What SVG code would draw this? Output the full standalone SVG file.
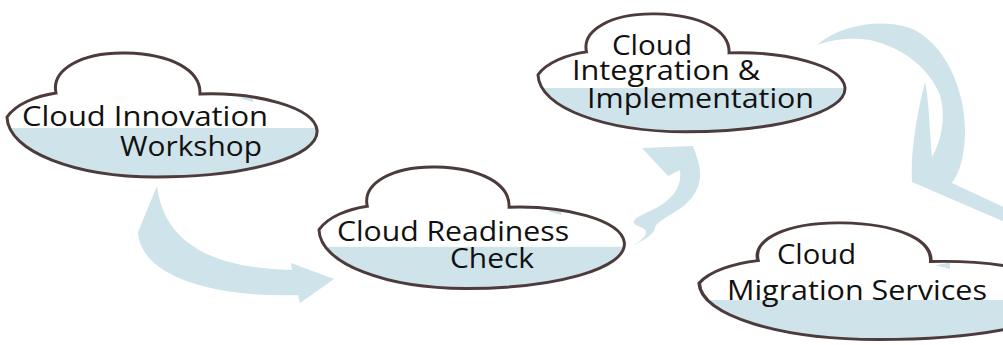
<svg xmlns="http://www.w3.org/2000/svg" xmlns:xlink="http://www.w3.org/1999/xlink" width="1003" height="345" viewBox="0 0 1003 345">
<style>
.arrow{fill:#cfe3ea;stroke:none}
.bg{fill:#ffffff;stroke:none}
.band{fill:#cfe3ea}
.outline{fill:none;stroke:#4d3b3b;stroke-width:3;vector-effect:non-scaling-stroke}
.hl{fill:#cfe3ea}
.lbl{font-family:"Open Sans","Noto Sans","DejaVu Sans",sans-serif;font-size:28px;fill:#111111}
</style>
<defs>
<path id="cloud" d="M1,65 C10,52 30,44 50,41 C45,18 75,0 120,1 C165,2 195,18 194,42 C250,40 308,55 311,78 C314,105 240,125 150,125 C70,125 2,100 1,65 Z"/>
<clipPath id="cc"><use xlink:href="#cloud" href="#cloud"/></clipPath>
</defs>
<rect width="1003" height="345" fill="#ffffff"/>
<g id="connectors">
<path class="arrow" d="M157,186 C163,235 200,268 292,270 L291,263 L334,279 L300,303 L298,295 C210,298 140,275 138,232 Z"/>
<path class="arrow" d="M632,246 C642,241 654,235 655,228 C656,223 662,220 670,215 C688,205 700,192 700,175 C700,162 695,152 693,146 L642,148 L668,176 L680,170 C682,185 675,197 658,207 C645,214 632,218 634,223 C636,227 646,227 646,232 C646,238 638,242 632,246 Z"/>
<path class="arrow" d="M817,45 C840,25 880,18 910,28 C945,42 965,90 965,130 C965,155 960,172 952,183 L1012,211 L1012,225 L912,182 C910,150 918,110 925,82 C929,100 930,135 932,157 C942,140 946,115 940,95 C930,70 905,48 870,40 C850,37 830,40 817,45 Z"/>
</g>
<g id="node-innovation">
<g transform="translate(6,52)">
<use xlink:href="#cloud" href="#cloud" class="bg"/>
<rect class="band" x="-5" y="76" width="330" height="60" clip-path="url(#cc)"/>
<polygon class="hl" points="233,46 247,43 247,50"/>
<use xlink:href="#cloud" href="#cloud" class="outline"/>
</g>
<text class="lbl" x="22" y="126" textLength="246" lengthAdjust="spacingAndGlyphs">Cloud Innovation</text>
<text class="lbl" x="120" y="156" textLength="142" lengthAdjust="spacingAndGlyphs">Workshop</text>
</g>
<g id="node-readiness">
<g transform="translate(318,166) scale(0.985,0.98)">
<use xlink:href="#cloud" href="#cloud" class="bg"/>
<rect class="band" x="-5" y="82.5" width="330" height="60" clip-path="url(#cc)"/>
<polygon class="hl" points="233,46 247,43 247,50"/>
<use xlink:href="#cloud" href="#cloud" class="outline"/>
</g>
<text class="lbl" x="337" y="241" textLength="232" lengthAdjust="spacingAndGlyphs">Cloud Readiness</text>
<text class="lbl" x="450" y="268" textLength="84" lengthAdjust="spacingAndGlyphs">Check</text>
</g>
<g id="node-integration">
<g transform="translate(537,13) scale(0.99,0.95)">
<use xlink:href="#cloud" href="#cloud" class="bg"/>
<rect class="band" x="-5" y="79" width="330" height="60" clip-path="url(#cc)"/>
<use xlink:href="#cloud" href="#cloud" class="outline"/>
</g>
<text class="lbl" x="612" y="55" textLength="80" lengthAdjust="spacingAndGlyphs">Cloud</text>
<text class="lbl" x="572" y="80" textLength="188" lengthAdjust="spacingAndGlyphs">Integration &amp;</text>
<text class="lbl" x="587" y="108" textLength="227" lengthAdjust="spacingAndGlyphs">Implementation</text>
</g>
<g id="node-migration">
<g transform="translate(698,222) scale(1.2,0.94)">
<use xlink:href="#cloud" href="#cloud" class="bg"/>
<rect class="band" x="-5" y="83" width="330" height="60" clip-path="url(#cc)"/>
<polygon class="hl" points="198,46 210,43 210,50"/>
<use xlink:href="#cloud" href="#cloud" class="outline"/>
</g>
<text class="lbl" x="777" y="264" textLength="79" lengthAdjust="spacingAndGlyphs">Cloud</text>
<text class="lbl" x="727" y="300" textLength="260" lengthAdjust="spacingAndGlyphs">Migration Services</text>
</g>
</svg>
